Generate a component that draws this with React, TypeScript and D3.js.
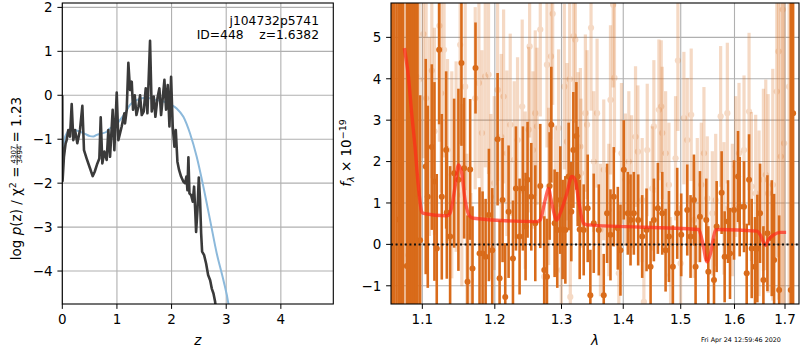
import React from "react";
import * as d3 from "d3";

// p(z) panel
const pzZ = [0, 0.005, 0.03, 0.06, 0.08, 0.11, 0.141, 0.172, 0.202, 0.233, 0.275, 0.324, 0.367, 0.397, 0.446, 0.507, 0.556, 0.593, 0.642, 0.678, 0.703, 0.733, 0.77, 0.812, 0.843, 0.874, 0.922, 0.953, 0.996, 1.026, 1.087, 1.136, 1.148, 1.179, 1.209, 1.24, 1.271, 1.295, 1.326, 1.357, 1.393, 1.424, 1.454, 1.49, 1.527, 1.558, 1.606, 1.637, 1.674, 1.704, 1.741, 1.777, 1.808, 1.838, 1.869, 1.899, 1.93, 1.961, 1.991, 2.021, 2.052, 2.077, 2.107, 2.137, 2.174, 2.217, 2.247, 2.272, 2.29, 2.308, 2.327, 2.357, 2.388, 2.412, 2.431, 2.449, 2.474, 2.498, 2.522, 2.541, 2.559, 2.596, 2.632, 2.669, 2.706, 2.736, 2.767, 2.797, 2.815, 2.85];
const pzLog = [0.0, -1.95, -1.4, -1.1, -1.02, -0.79, -0.94, -0.2, -1.02, -0.79, -1.09, -0.79, -0.24, -1.25, -1.44, -1.66, -1.84, -1.74, -1.55, -1.44, -0.5, -1.55, -1.28, -1.47, -0.79, -1.4, -0.33, -1.25, 0.06, -1.02, -0.71, -0.41, -0.64, -0.33, 0.74, 0.12, 0.31, -0.33, 0.0, -0.45, -0.26, 0.0, -0.45, -0.37, 0.16, -0.41, 1.24, -0.37, -0.03, -0.49, -0.07, 0.16, -0.45, -0.07, 0.35, -0.33, 0.23, -0.71, 0.42, -0.71, -1.17, -0.79, -1.51, -1.7, -1.85, -1.97, -2.0, -1.85, -2.16, -1.41, -2.23, -2.27, -2.42, -2.08, -2.57, -3.11, -2.61, -1.87, -2.39, -3.14, -3.56, -3.64, -3.83, -4.09, -4.21, -4.4, -4.51, -4.7, -4.9, -5.2];
const priorZ = [0, 0.019, 0.05, 0.08, 0.141, 0.233, 0.324, 0.416, 0.507, 0.568, 0.629, 0.721, 0.812, 0.874, 0.965, 1.057, 1.148, 1.239, 1.361, 1.484, 1.606, 1.728, 1.85, 1.972, 2.094, 2.216, 2.338, 2.46, 2.582, 2.705, 2.827, 2.949, 3.04, 3.07];
const priorLog = [-1.4, -1.17, -0.95, -0.87, -0.78, -0.79, -0.83, -0.88, -0.93, -0.94, -0.9, -0.87, -0.83, -0.75, -0.71, -0.56, -0.41, -0.22, -0.11, -0.06, -0.07, -0.11, -0.14, -0.2, -0.3, -0.49, -0.87, -1.4, -2.08, -2.84, -3.6, -4.21, -4.74, -5.0];
const zTicks = [0, 1, 2, 3, 4];
const logTicks = [-4, -3, -2, -1, 0, 1, 2];

// spectrum panel
const specWave = [1.0605, 1.0635, 1.0665, 1.0695, 1.0723, 1.075, 1.0797, 1.0827, 1.0845, 1.0862, 1.0892, 1.0915, 1.0936, 1.0971, 1.1045, 1.1072, 1.1126, 1.1161, 1.1192, 1.1224, 1.126, 1.1319, 1.1328, 1.1373, 1.1428, 1.1487, 1.1529, 1.1566, 1.1613, 1.165, 1.1683, 1.1725, 1.1782, 1.1825, 1.1868, 1.1915, 1.1963, 1.204, 1.2069, 1.2112, 1.2151, 1.22, 1.2264, 1.2308, 1.2362, 1.2411, 1.2451, 1.2481, 1.2537, 1.2597, 1.2673, 1.2734, 1.2775, 1.2816, 1.2842, 1.2893, 1.2934, 1.2981, 1.3018, 1.306, 1.3112, 1.3154, 1.3186, 1.3234, 1.3255, 1.3287, 1.3351, 1.3415, 1.3458, 1.3513, 1.3595, 1.3676, 1.3731, 1.3787, 1.3842, 1.3909, 1.3953, 1.4009, 1.4077, 1.4123, 1.4179, 1.4253, 1.4322, 1.4397, 1.4467, 1.4524, 1.4594, 1.4671, 1.473, 1.4789, 1.4859, 1.4937, 1.5009, 1.5118, 1.5178, 1.524, 1.527, 1.535, 1.5467, 1.5505, 1.5611, 1.5661, 1.5755, 1.5812, 1.5876, 1.5914, 1.5991, 1.6068, 1.61, 1.6184, 1.6236, 1.6282, 1.6334, 1.6399, 1.6445, 1.6498, 1.6565, 1.6645, 1.6732, 1.6779, 1.6881, 1.7118, 1.7166];
const specFlux = [2.1, -1.8, 6.5, 0.6, 4.38, 7.0, -0.52, 1.23, -2.0, 3.13, 2.43, 6.2, 1.23, 0.1, 1.88, 1.15, 2.35, 1.52, -0.1, 4.7, 1.15, 2.28, 0.77, 0.19, 1.72, 1.56, 4.38, 1.84, -0.9, 1.81, -0.58, 4.26, -0.22, -0.22, -0.3, 0.71, -0.14, 2.54, -0.82, 1.07, -1.27, 0.79, -0.34, 1.35, 0.19, 1.35, 0.43, 1.56, 1.15, 0.51, 1.41, -0.62, -0.78, 1.41, 2.89, 0.51, 0.35, 1.07, 0.36, 0.35, 1.64, 0.79, 2.28, 2.62, 1.64, 0.36, 0.35, 0.87, -1.23, 0.51, 0.35, -1.23, 0.75, 0.23, 1.15, 0.39, -0.14, 1.8, 0.75, 0.59, 0.75, 0.59, 0.19, 0.35, -0.54, 0.59, 0.87, 0.75, -0.14, 0.19, -0.54, 0.75, 0.23, 0.83, 0.19, 1.07, -0.54, 0.67, 0.59, -0.66, -0.86, 0.43, 1.25, -0.3, 0.55, -0.22, 0.83, 1.64, 0.91, 0.91, -0.7, 1.56, -0.1, -0.54, -0.1, 0.75, -0.86, 0.27, 0.15, -0.38, -1.1, -1.1, 3.17];
const specErr = [12, 12, 12, 12, 10, 12, 10, 10, 10, 10, 8, 10, 8, 3.5, 2.6, 2.2, 2.0, 2.4, 1.8, 1.8, 2.0, 1.9, 1.6, 1.7, 1.8, 2.2, 2.0, 1.7, 1.6, 1.7, 1.5, 1.1, 1.6, 1.5, 1.4, 1.6, 1.5, 1.6, 1.4, 1.5, 1.3, 1.6, 1.4, 1.5, 1.4, 1.5, 1.3, 1.4, 1.3, 1.4, 1.5, 1.3, 1.4, 1.3, 1.4, 1.3, 1.4, 1.3, 1.2, 1.3, 1.3, 1.2, 1.4, 1.3, 1.2, 1.2, 1.1, 1.3, 1.1, 1.2, 1.1, 1.0, 1.2, 1.1, 1.2, 1.0, 1.1, 1.2, 1.0, 1.1, 1.0, 1.1, 1.0, 1.0, 1.1, 1.0, 1.1, 1.0, 1.0, 1.1, 1.0, 1.1, 1.0, 1.1, 1.0, 1.1, 1.0, 1.1, 1.0, 1.1, 1.0, 1.1, 1.0, 1.1, 1.0, 1.1, 1.2, 1.1, 1.2, 1.1, 1.2, 1.1, 1.2, 1.2, 1.3, 1.2, 1.3, 1.4, 1.4, 1.6, 1.8, 10, 10];

// lower-weight pixels, drawn faint
const faintWave = [1.0819, 1.0853, 1.0919, 1.0958, 1.1014, 1.105, 1.1094, 1.1126, 1.1161, 1.1228, 1.1251, 1.1291, 1.1337, 1.1396, 1.1455, 1.1511, 1.1534, 1.1581, 1.1604, 1.166, 1.1721, 1.1773, 1.1816, 1.1863, 1.191, 1.1944, 1.1992, 1.204, 1.2093, 1.2127, 1.2175, 1.2224, 1.2283, 1.2332, 1.2401, 1.2446, 1.2497, 1.2512, 1.2562, 1.2597, 1.2623, 1.2673, 1.2734, 1.2775, 1.2801, 1.2837, 1.2863, 1.2904, 1.2955, 1.2997, 1.3044, 1.3086, 1.3128, 1.3138, 1.3191, 1.3218, 1.3261, 1.3298, 1.3308, 1.3378, 1.3405, 1.3469, 1.3513, 1.3567, 1.3622, 1.3676, 1.3759, 1.3787, 1.3831, 1.3853, 1.3926, 1.397, 1.4037, 1.4094, 1.414, 1.4208, 1.4248, 1.4322, 1.4351, 1.4409, 1.4496, 1.4524, 1.4612, 1.4653, 1.4671, 1.473, 1.4789, 1.4818, 1.4907, 1.4949, 1.4997, 1.5057, 1.5118, 1.519, 1.524, 1.5301, 1.5375, 1.5424, 1.5486, 1.558, 1.5643, 1.5736, 1.5799, 1.5863, 1.5959, 1.6023, 1.6087, 1.6184, 1.6282, 1.6328, 1.6412, 1.6478, 1.6565, 1.6612, 1.6659, 1.6752, 1.6833, 1.6867, 1.6915, 1.6955, 1.6982, 1.7084];
const faintFlux = [-0.26, 0.43, 4.06, 3.98, 5.08, 3.53, 2.6, 4.2, 2.73, 5.28, 3.65, 4.7, 2.28, 1.68, 2.12, 4.82, 1.19, 3.81, 0.19, -0.86, 3.53, 3.9, 2.69, 4.06, 4.1, 1.15, 1.48, 3.73, 2.6, 3.57, 2.2, 2.89, 2.04, 2.52, 3.33, 1.31, 2.77, 4.78, 2.28, 3.17, 2.85, 5.19, -0.78, 4.34, 1.4, 4.54, 5.57, 1.07, 2.81, -0.62, 3.81, 2.48, 3.99, -1.27, 5.03, 4.94, 2.36, 2.36, 1.72, 3.17, 2.89, 5.23, 2.0, 3.17, 0.35, 1.8, 0.83, 3.49, 5.79, 4.02, -0.7, 2.2, 1.56, 2.0, 1.52, 2.6, 2.24, 1.07, -1.39, 2.28, 1.35, 2.85, 3.25, 3.33, 2.69, 2.2, 1.44, -0.74, 2.08, 4.44, -0.46, 3.05, 2.52, 3.13, 0.59, 1.07, 1.44, 2.2, 1.11, 0.75, 1.07, 3.09, 0.87, 3.17, 0.83, 1.88, 2.2, 2.28, 3.21, 1.4, 1.23, 0.75, 1.56, 1.68, 1.23, 1.44, 3.69, 4.66, 2.12, 5.67, 2.44, 3.81];
const faintErr = [10, 10, 10, 6, 3.0, 2.6, 2.4, 2.6, 2.5, 2.8, 2.4, 2.6, 2.2, 2.5, 2.3, 2.4, 2.2, 2.5, 2.0, 2.1, 2.2, 2.3, 2.0, 2.2, 2.4, 2.0, 2.1, 2.2, 2.0, 2.1, 2.0, 2.2, 1.9, 2.0, 2.1, 1.9, 2.0, 2.2, 1.9, 2.0, 1.9, 2.1, 1.8, 2.0, 1.9, 2.0, 2.2, 1.8, 1.9, 1.7, 2.0, 1.9, 2.0, 1.7, 2.1, 2.0, 1.8, 1.9, 1.8, 1.9, 1.8, 2.0, 1.7, 1.8, 1.6, 1.7, 1.6, 1.8, 2.0, 1.8, 1.5, 1.7, 1.6, 1.7, 1.6, 1.7, 1.6, 1.5, 1.4, 1.6, 1.5, 1.6, 1.7, 1.6, 1.6, 1.5, 1.5, 1.4, 1.5, 1.7, 1.4, 1.6, 1.5, 1.6, 1.4, 1.5, 1.5, 1.6, 1.5, 1.5, 1.6, 1.7, 1.6, 1.7, 1.6, 1.7, 1.7, 1.8, 1.9, 1.8, 1.9, 2.0, 2.2, 2.3, 2.4, 2.8, 4, 6, 8, 10, 10, 10];

// best-fit template
const modelWave = [1.0765, 1.0817, 1.086, 1.0904, 1.0948, 1.0992, 1.1014, 1.1327, 1.1372, 1.1441, 1.1487, 1.1533, 1.1579, 1.1649, 1.1696, 1.2621, 1.2671, 1.2747, 1.2798, 1.2849, 1.2927, 1.2979, 1.3083, 1.3162, 1.3215, 1.3268, 1.3348, 1.3403, 1.5328, 1.539, 1.5483, 1.5545, 1.564, 1.5704, 1.6437, 1.6503, 1.6603, 1.667, 1.6771, 1.6907, 1.7023];
const modelFlux = [4.74, 4.06, 3.17, 2.36, 1.4, 0.79, 0.75, 0.69, 0.75, 1.4, 1.92, 1.72, 1.07, 0.67, 0.63, 0.55, 0.59, 1.07, 1.35, 0.99, 0.59, 0.75, 1.23, 1.64, 1.56, 1.07, 0.51, 0.47, 0.36, 0.1, -0.42, -0.22, 0.35, 0.36, 0.32, 0.23, -0.02, 0.12, 0.23, 0.29, 0.29];
const waveTicks = [1.1, 1.2, 1.3, 1.4, 1.5, 1.6, 1.7];
const fluxTicks = [-1, 0, 1, 2, 3, 4, 5];

const FONT = "DejaVu Sans, sans-serif";
const ORANGE = "#d96b1a";

const L = { left: 62.3, right: 333.3, top: 3, bottom: 304 };
const R = { left: 391, right: 799, top: 3, bottom: 304 };
const TICK = 4.9;

const fmt = (v: number) => (v < 0 ? "\u2212" + Math.abs(v) : String(v));

export default function App() {
  const xz = d3.scaleLinear().domain([0, 4.96]).range([L.left, L.right]);
  const yl = d3.scaleLinear().domain([-4.75, 2.1]).range([L.bottom, L.top]);
  const xw = d3.scaleLog().domain([1.0594, 1.7288]).range([R.left, R.right]);
  const yf = d3.scaleLinear().domain([-1.44, 5.83]).range([R.bottom, R.top]);

  const pzLine = d3.line<number>().x((_, i) => xz(pzZ[i])).y((d) => yl(d));
  const priorLine = d3.line<number>().x((_, i) => xz(priorZ[i])).y((d) => yl(d)).curve(d3.curveMonotoneX);
  const modelLine = d3.line<number>().x((_, i) => xw(modelWave[i])).y((d) => yf(d)).curve(d3.curveMonotoneX);

  const errBars = (wave: number[], flux: number[], err: number[], w: number, op: number, r: number) =>
    wave.map((wv, i) => (
      <g key={i} opacity={op}>
        <line x1={xw(wv)} x2={xw(wv)} y1={yf(flux[i] - err[i])} y2={yf(flux[i] + err[i])} stroke={ORANGE} strokeWidth={w} />
        <circle cx={xw(wv)} cy={yf(flux[i])} r={r} fill={ORANGE} />
      </g>
    ));

  const yMid = (L.top + L.bottom) / 2;

  return (
    <svg width={800} height={350} style={{ position: "absolute", left: 0, top: 0, background: "#fff" }} fontFamily={FONT}>
      <defs>
        <clipPath id="clipL"><rect x={L.left} y={L.top} width={L.right - L.left} height={L.bottom - L.top} /></clipPath>
        <clipPath id="clipR"><rect x={R.left} y={R.top} width={R.right - R.left} height={R.bottom - R.top} /></clipPath>
      </defs>

      {/* left panel */}
      <g>
        {zTicks.map((t) => (
          <line key={"gx" + t} x1={xz(t)} x2={xz(t)} y1={L.top} y2={L.bottom} stroke="#b0b0b0" strokeWidth={1.1} />
        ))}
        {logTicks.map((t) => (
          <line key={"gy" + t} x1={L.left} x2={L.right} y1={yl(t)} y2={yl(t)} stroke="#b0b0b0" strokeWidth={1.1} />
        ))}
        <g clipPath="url(#clipL)">
          <path d={priorLine(priorLog) || ""} fill="none" stroke="#8cb9db" strokeWidth={2} />
          <path d={pzLine(pzLog) || ""} fill="none" stroke="#3a3a3a" strokeWidth={2.6} strokeLinejoin="round" />
        </g>
        <rect x={L.left} y={L.top} width={L.right - L.left} height={L.bottom - L.top} fill="none" stroke="#000" strokeWidth={1.1} />
        {zTicks.map((t) => (
          <g key={"tx" + t}>
            <line x1={xz(t)} x2={xz(t)} y1={L.bottom} y2={L.bottom + TICK} stroke="#000" />
            <text x={xz(t)} y={L.bottom + 9.7} dy="0.76em" textAnchor="middle" fontSize={13.5}>{fmt(t)}</text>
          </g>
        ))}
        {logTicks.map((t) => (
          <g key={"ty" + t}>
            <line x1={L.left - TICK} x2={L.left} y1={yl(t)} y2={yl(t)} stroke="#000" />
            <text x={L.left - 9.7} y={yl(t)} dy="0.36em" textAnchor="end" fontSize={13.5}>{fmt(t)}</text>
          </g>
        ))}
        <text x={(L.left + L.right) / 2} y={345} textAnchor="middle" fontSize={13.5} fontStyle="italic">z</text>
        <text x={319} y={25} textAnchor="end" fontSize={12.3}>j104732p5741</text>
        <text x={319} y={39} textAnchor="end" fontSize={12.3} style={{ whiteSpace: "pre" }}>ID=448    z=1.6382</text>
        <g transform={`translate(20.5,${yMid}) rotate(-90)`}>
          <text x={-13} y={0} textAnchor="end" fontSize={13.5}>
            log <tspan fontStyle="italic">p</tspan>(z) / χ<tspan dy={-5} fontSize={9.5}>2</tspan><tspan dy={5}> =</tspan>
          </text>
          <text x={-1} y={-4.8} textAnchor="middle" fontSize={7}>4307</text>
          <line x1={-11.5} x2={9.5} y1={-3.4} y2={-3.4} stroke="#000" strokeWidth={0.7} />
          <text x={-1} y={1.9} textAnchor="middle" fontSize={7}>3494</text>
          <text x={11} y={0} fontSize={13.5}>= 1.23</text>
        </g>
      </g>

      {/* right panel */}
      <g>
        {waveTicks.map((t) => (
          <line key={"gw" + t} x1={xw(t)} x2={xw(t)} y1={R.top} y2={R.bottom} stroke="#b0b0b0" strokeWidth={1.1} />
        ))}
        {fluxTicks.map((t) => (
          <line key={"gf" + t} x1={R.left} x2={R.right} y1={yf(t)} y2={yf(t)} stroke="#b0b0b0" strokeWidth={1.1} />
        ))}
        <g clipPath="url(#clipR)">
          {errBars(faintWave, faintFlux, faintErr, 3.2, 0.25, 3.1)}
          {errBars(specWave, specFlux, specErr, 2.6, 1, 3)}
          <path d={modelLine(modelFlux) || ""} fill="none" stroke="#ff2a1a" strokeOpacity={0.7} strokeWidth={3.4} strokeLinejoin="round" />
          <line x1={R.left} x2={R.right} y1={yf(0)} y2={yf(0)} stroke="#111" strokeWidth={2} strokeDasharray="2,2.6" />
        </g>
        <rect x={R.left} y={R.top} width={R.right - R.left} height={R.bottom - R.top} fill="none" stroke="#000" strokeWidth={1.1} />
        {waveTicks.map((t) => (
          <g key={"tw" + t}>
            <line x1={xw(t)} x2={xw(t)} y1={R.bottom} y2={R.bottom + TICK} stroke="#000" />
            <text x={xw(t)} y={R.bottom + 9.7} dy="0.76em" textAnchor="middle" fontSize={13.5}>{t.toFixed(1)}</text>
          </g>
        ))}
        {fluxTicks.map((t) => (
          <g key={"tf" + t}>
            <line x1={R.left - TICK} x2={R.left} y1={yf(t)} y2={yf(t)} stroke="#000" />
            <text x={R.left - 9.7} y={yf(t)} dy="0.36em" textAnchor="end" fontSize={13.5}>{fmt(t)}</text>
          </g>
        ))}
        <text x={(R.left + R.right) / 2} y={345} textAnchor="middle" fontSize={13.5} fontStyle="italic">λ</text>
        <g transform="translate(351,153) rotate(-90)">
          <text x={0} y={0} textAnchor="middle" fontSize={13.5}>
            <tspan fontStyle="italic">f</tspan><tspan dy={3} fontSize={9.5} fontStyle="italic">λ</tspan><tspan dy={-3}> × 10</tspan><tspan dy={-5} fontSize={9.5}>−19</tspan>
          </text>
        </g>
        <text x={701} y={342} fontSize={6.4}>Fri Apr 24 12:59:46 2020</text>
      </g>
    </svg>
  );
}
